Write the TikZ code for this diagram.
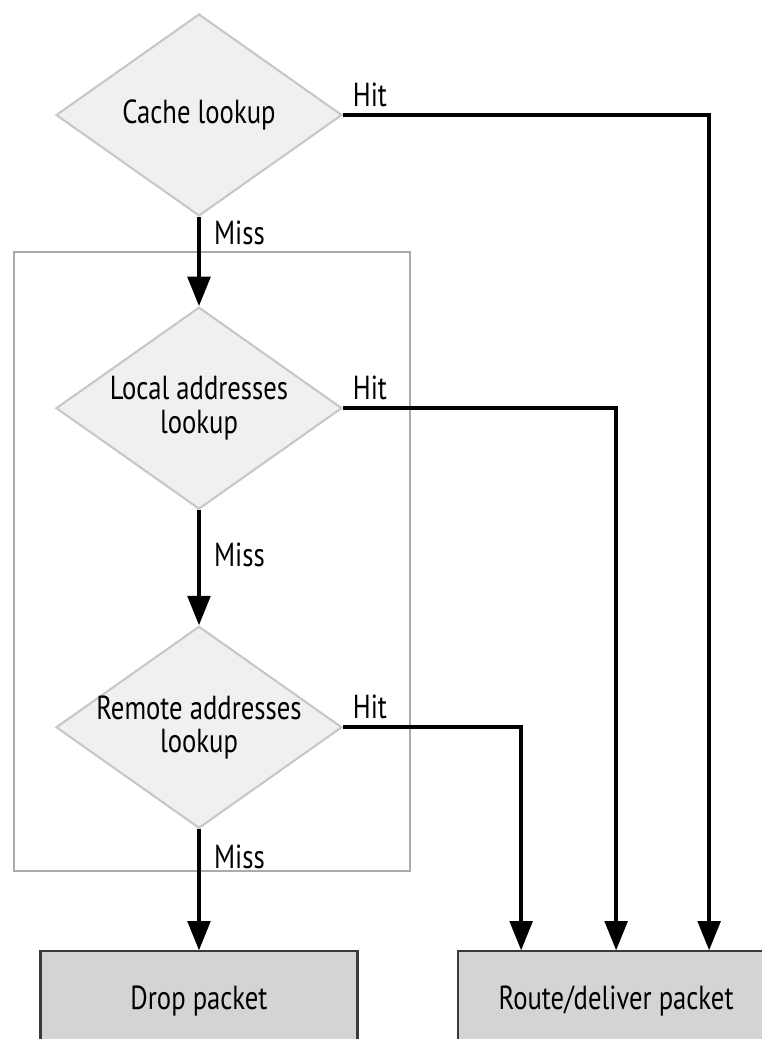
\documentclass[tikz,border=0pt]{standalone}
\usepackage{fontspec}
\setmainfont{PT Sans}[FakeStretch=0.8]
\usetikzlibrary{arrows.meta,calc,fit,positioning,shapes.geometric}
\definecolor{lookupfill}{HTML}{F0F0F0}
\definecolor{lookupedge}{HTML}{C8C8C8}
\definecolor{planeedge}{HTML}{AAAAAA}
\definecolor{actionfill}{HTML}{D4D4D4}
\definecolor{actionedge}{HTML}{3A3A3A}

\begin{document}
\begin{tikzpicture}[
  x=0.75pt, y=-0.75pt,
  font=\fontsize{25}{25}\selectfont,
  lookup/.style={diamond, draw=lookupedge, fill=lookupfill, line width=1.6pt,
                 align=center, inner sep=-6pt, aspect=1.416,
                 minimum width=214.5pt, minimum height=151.5pt},
  action/.style={rectangle, draw=actionedge, fill=actionfill, line width=1.6pt,
                 minimum width=237.75pt, minimum height=75pt},
  plane/.style={draw=planeedge, line width=2pt, inner sep=0pt},
  flow/.style={-{Triangle[length=22pt, width=17pt]}, line width=2.7pt, draw=black},
  hit/.style={anchor=south west, inner sep=0pt, xshift=6pt, yshift=5pt},
  miss/.style={anchor=west, inner sep=0pt, xshift=10pt}
]
  \useasboundingbox (0,0) rectangle (761,1039);

  \node[plane, fit={(14,252) (410,871)}] (engine) {};

  \node[lookup] (cache) at (199,115) {Cache lookup};
  \node[lookup, below=66.75pt of cache] (local) {Local addresses\\lookup};
  \node[lookup, below=86.25pt of local] (remote) {Remote addresses\\lookup};

  \node[action, below=90.75pt of remote] (drop) {Drop packet};
  \node[action, right=73.5pt of drop] (route) {Route/deliver packet};

  % misses go down the chain
  \draw[flow] (cache) -- node[miss, pos=0.18] {Miss} (local);
  \draw[flow] (local) -- node[miss, pos=0.39] {Miss} (remote);
  \draw[flow] (remote) -- node[miss, pos=0.23] {Miss} (drop);

  % hits go to the route box
  \draw[flow] (cache.east) -| node[hit, pos=0] {Hit} ($(route.north)+(93,0)$);
  \draw[flow] (local.east) -| node[hit, pos=0] {Hit} (route.north);
  \draw[flow] (remote.east) -| node[hit, pos=0] {Hit} ($(route.north)+(-95,0)$);
\end{tikzpicture}
\end{document}
